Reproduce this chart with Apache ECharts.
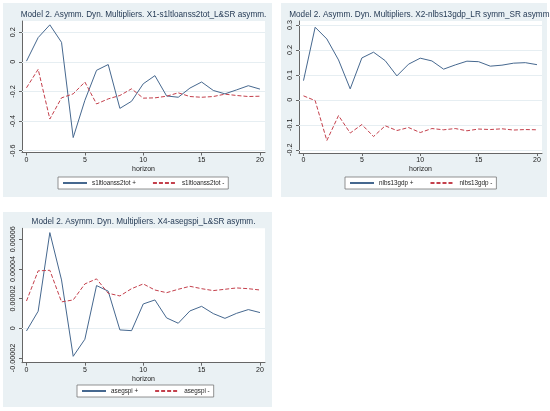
<!DOCTYPE html>
<html><head><meta charset="utf-8">
<script src="https://cdn.jsdelivr.net/npm/echarts@6/dist/echarts.min.js"></script>
<style>html,body{margin:0;padding:0;background:#fff}#c{width:550px;height:411px}</style>
</head><body><div id="c"></div>
<script>
const horizon = [0,1,2,3,4,5,6,7,8,9,10,11,12,13,14,15,16,17,18,19,20];
const xTicks = [0,5,10,15,20];

const titles = [
  "Model 2. Asymm. Dyn. Multipliers. X1-s1ltloanss2tot_L&SR asymm.",
  "Model 2. Asymm. Dyn. Multipliers. X2-nlbs13gdp_LR symm_SR asymm.",
  "Model 2. Asymm. Dyn. Multipliers. X4-asegspi_L&SR asymm."
];

// Panel 1
const p1Names = ["s1ltloanss2tot +", "s1ltloanss2tot -"];
const p1Pos = [0.005,0.164,0.25,0.132,-0.511,-0.26,-0.057,-0.018,-0.314,-0.266,-0.148,-0.093,-0.23,-0.239,-0.177,-0.136,-0.193,-0.216,-0.189,-0.161,-0.184];
const p1Neg = [-0.175,-0.05,-0.386,-0.243,-0.216,-0.136,-0.284,-0.25,-0.227,-0.182,-0.245,-0.243,-0.232,-0.209,-0.234,-0.239,-0.234,-0.218,-0.227,-0.234,-0.232];
const p1YTicks = [-0.6,-0.4,-0.2,0,0.2];

// Panel 2
const p2Names = ["nlbs13gdp +", "nlbs13gdp -"];
const p2Pos = [0.077,0.291,0.244,0.16,0.044,0.168,0.191,0.157,0.096,0.143,0.167,0.156,0.123,0.14,0.155,0.153,0.135,0.139,0.147,0.149,0.141];
const p2Neg = [0.016,-0.003,-0.163,-0.063,-0.133,-0.099,-0.147,-0.104,-0.123,-0.111,-0.131,-0.115,-0.12,-0.115,-0.124,-0.117,-0.119,-0.116,-0.121,-0.119,-0.12];
const p2YTicks = [-0.2,-0.1,0,0.1,0.2,0.3];

// Panel 3
const p3Names = ["asegspi +", "asegspi -"];
const p3Pos = [-0.0000018,0.0000115,0.0000645,0.0000326,-0.0000189,-0.0000074,0.0000288,0.000025,-0.0000011,-0.0000016,0.0000164,0.0000191,0.000007,0.0000034,0.0000117,0.0000148,0.0000099,0.0000067,0.0000101,0.0000126,0.0000106];
const p3Neg = [0.0000184,0.0000387,0.0000391,0.0000178,0.0000191,0.0000299,0.0000333,0.0000236,0.0000218,0.0000267,0.0000299,0.0000258,0.000024,0.0000263,0.0000283,0.0000267,0.0000254,0.0000263,0.0000272,0.0000267,0.0000258];
const p3YTicks = [-0.00002,0,0.00002,0.00004,0.00006];

const BLUE = '#46688f', RED = '#c4404c', BG = '#eaf1f4', GRID = '#e6eef2';
const FONT = 'Liberation Sans, Arial, sans-serif';

const panels = [
  {grid:{left:22,top:21,width:243,height:131.5}, xr:[-0.385,20.43], yr:[-0.612,0.276], yt:p1YTicks, fmt:v=>String(v),
   names:p1Names, pos:p1Pos, neg:p1Neg, title:[143.5,10.5], legend:[58,177], bg:[3,3,269,194]},
  {grid:{left:299,top:21,width:243,height:132}, xr:[-0.385,20.43], yr:[-0.213,0.316], yt:p2YTicks, fmt:v=>String(v),
   names:p2Names, pos:p2Pos, neg:p2Neg, title:[420.5,10.5], legend:[345,177], bg:[281,3,266,194]},
  {grid:{left:22,top:228.3,width:243,height:134.4}, xr:[-0.385,20.43], yr:[-0.0000232,0.0000674], yt:p3YTicks, fmt:v=>v===0?'0':v.toFixed(5),
   names:p3Names, pos:p3Pos, neg:p3Neg, title:[143.5,218], legend:[77,385], bg:[3,212,269,195]}
];

const option = {
  animation:false,
  backgroundColor:'#fff',
  textStyle:{fontFamily:FONT},
  graphic:{elements: panels.map(p=>({type:'rect', z:-10, shape:{x:p.bg[0],y:p.bg[1],width:p.bg[2],height:p.bg[3]}, style:{fill:BG}, silent:true}))},
  title: panels.map((p,i)=>({text:titles[i], left:p.title[0], top:p.title[1], textAlign:'center', padding:0,
     textStyle:{fontSize:8.2, fontWeight:'normal', color:'#1f3550', fontFamily:FONT}})),
  grid: panels.map(p=>Object.assign({show:true, backgroundColor:'#fff', borderWidth:0}, p.grid)),
  xAxis: panels.map((p,i)=>({type:'value', gridIndex:i, min:p.xr[0], max:p.xr[1],
     name:'horizon', nameLocation:'middle', nameGap:13, nameTextStyle:{fontSize:7, color:'#222', fontFamily:FONT},
     axisLine:{show:true, onZero:false, lineStyle:{color:'#666', width:1}},
     axisTick:{show:true, length:3, lineStyle:{color:'#666'}, customValues:xTicks},
     axisLabel:{fontSize:7, color:'#222', margin:4, customValues:xTicks, formatter:v=>String(v)},
     splitLine:{show:false}})),
  yAxis: panels.map((p,i)=>({type:'value', gridIndex:i, min:p.yr[0], max:p.yr[1],
     axisLine:{show:true, onZero:false, lineStyle:{color:'#666', width:1}},
     axisTick:{show:true, length:3, lineStyle:{color:'#666'}, customValues:p.yt},
     axisLabel:{fontSize:7.2, color:'#222', margin:5, rotate:90, customValues:p.yt, formatter:p.fmt},
     splitLine:{show:false}})),
  legend: panels.map((p,i)=>({data:p.names, left:p.legend[0], top:p.legend[1], orient:'horizontal',
     backgroundColor:'#fff', borderColor:'#777', borderWidth:0.8, borderRadius:0, padding:[3,4,3,4],
     itemWidth:24, itemHeight:6, itemGap:16, itemStyle:{opacity:0},
     textStyle:{fontSize:6.3, color:'#222', fontFamily:FONT}})),
  series: []
};

panels.forEach((p,i)=>{
  option.series.push({name:p.names[0], type:'line', xAxisIndex:i, yAxisIndex:i, symbol:'none',
    data: horizon.map((h,k)=>[h,p.pos[k]]), lineStyle:{color:BLUE, width:1}, itemStyle:{color:BLUE}, z:3,
    markLine:{silent:true, symbol:'none', label:{show:false}, animation:false,
      lineStyle:{color:GRID, width:1, type:'solid'}, data:p.yt.map(v=>({yAxis:v})), z:1}});
  option.series.push({name:p.names[1], type:'line', xAxisIndex:i, yAxisIndex:i, symbol:'none',
    data: horizon.map((h,k)=>[h,p.neg[k]]), lineStyle:{color:RED, width:1, type:[4,2]}, itemStyle:{color:RED}, z:3});
});

const chart = echarts.init(document.getElementById('c'), null, {renderer:'canvas'});
chart.setOption(option);
</script>
</body></html>
